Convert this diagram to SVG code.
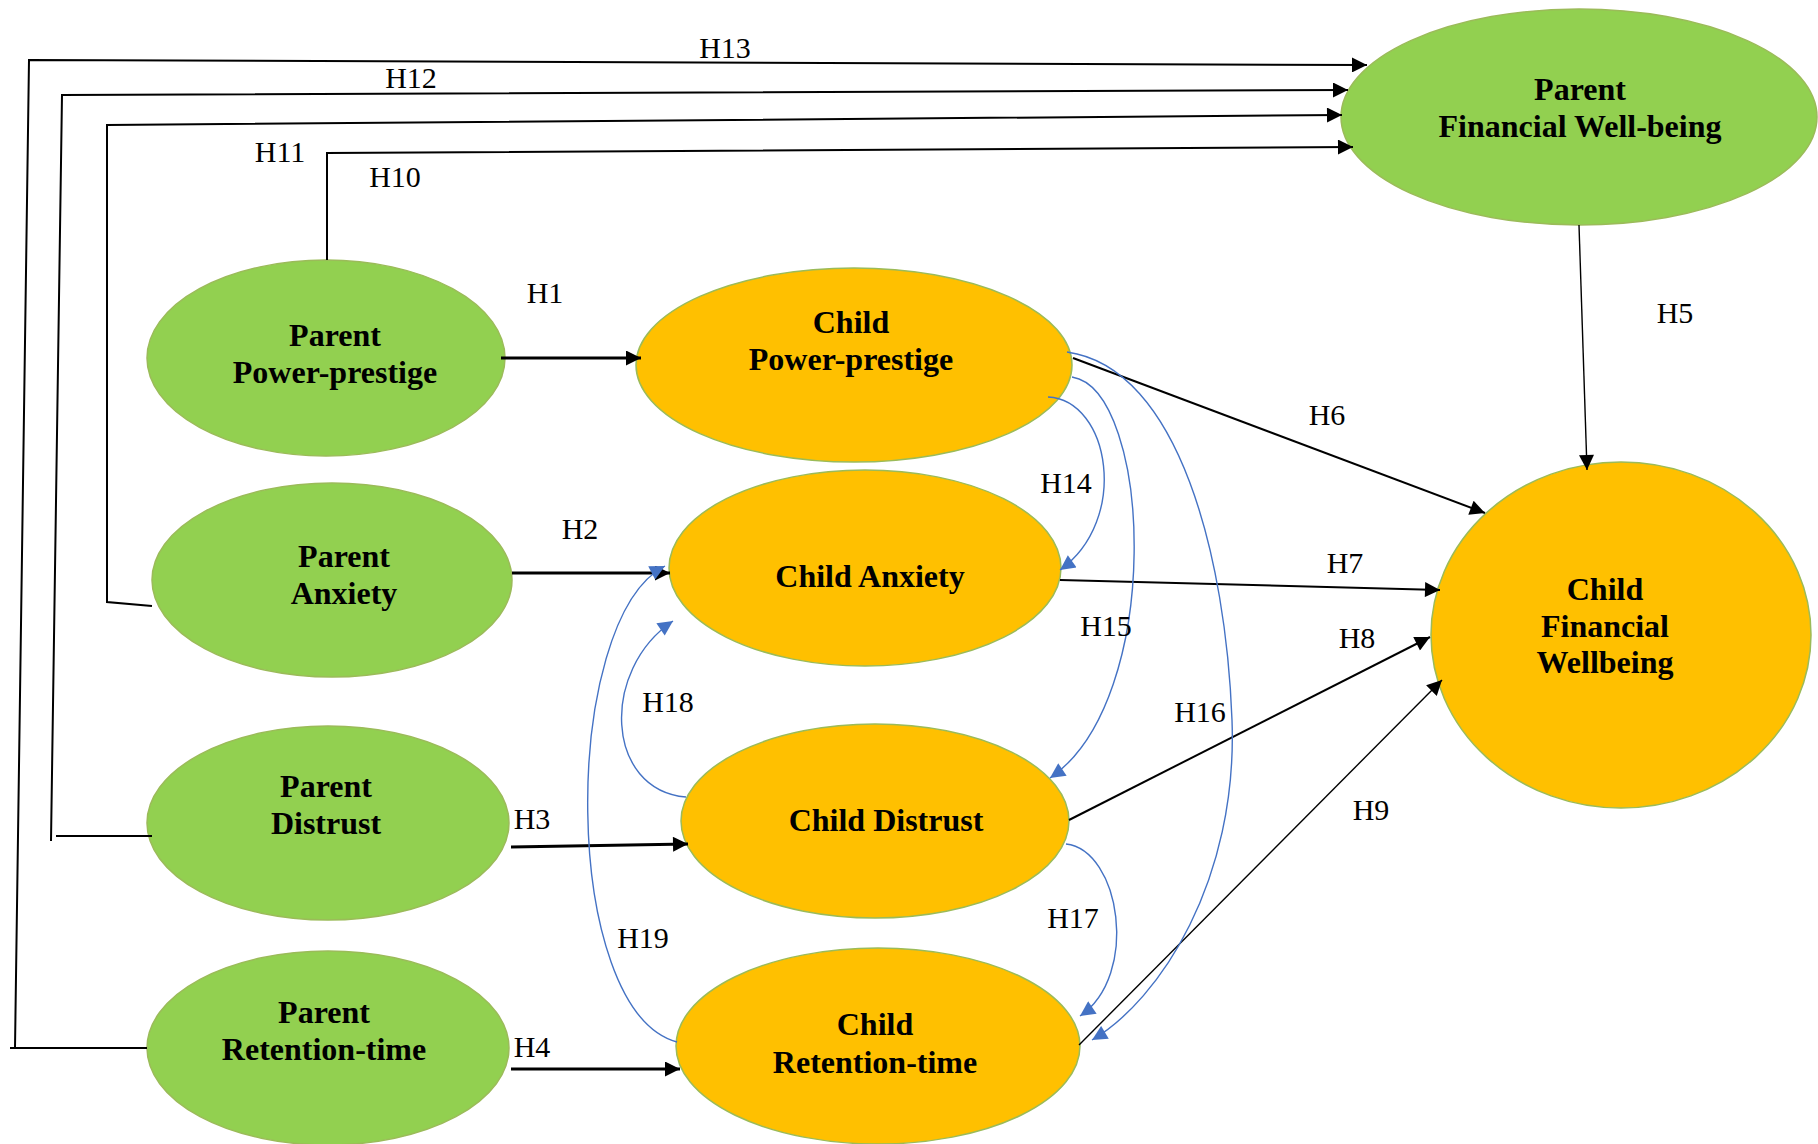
<svg xmlns="http://www.w3.org/2000/svg" width="1818" height="1144" viewBox="0 0 1818 1144">
  <style>
    .parent { fill: #92D050; stroke: #9BBB59; stroke-width: 1.5; }
    .child { fill: #FFC000; stroke: #9BBB59; stroke-width: 1.5; }
    .node-text { font-family: "Liberation Serif", "Times New Roman", serif; font-weight: bold; font-size: 32px; fill: #000; text-anchor: middle; }
    .lbl { font-family: "Liberation Serif", "Times New Roman", serif; font-size: 30px; fill: #000; text-anchor: middle; }
    .path { fill: none; stroke: #000; stroke-width: 2; }
    .thick { stroke-width: 3; }
    .thin { stroke-width: 1.4; }
    .corr { fill: none; stroke: #4472C4; stroke-width: 1.4; }
  </style>
  <defs>
    <marker id="arrow" viewBox="0 0 10 10" refX="10" refY="5" markerUnits="userSpaceOnUse" markerWidth="16" markerHeight="15" orient="auto">
      <path d="M0,0 L10,5 L0,10 z" fill="#000"/>
    </marker>
    <marker id="arrow-blue" viewBox="0 0 10 10" refX="10" refY="5" markerUnits="userSpaceOnUse" markerWidth="17" markerHeight="15" orient="auto">
      <path d="M0,0 L10,5 L0,10 z" fill="#4472C4"/>
    </marker>
  </defs>

  <rect width="1818" height="1144" fill="#fff"/>

  <!-- Nodes -->
  <g id="parent-financial-wellbeing">
    <ellipse class="parent" cx="1579" cy="117" rx="238" ry="108"/>
    <text class="node-text" x="1580" y="100">Parent</text>
    <text class="node-text" x="1580" y="137">Financial Well-being</text>
  </g>
  <g id="parent-power-prestige">
    <ellipse class="parent" cx="326" cy="358" rx="179" ry="98"/>
    <text class="node-text" x="335" y="346">Parent</text>
    <text class="node-text" x="335" y="383">Power-prestige</text>
  </g>
  <g id="parent-anxiety">
    <ellipse class="parent" cx="332" cy="580" rx="180" ry="97"/>
    <text class="node-text" x="344" y="567">Parent</text>
    <text class="node-text" x="344" y="604">Anxiety</text>
  </g>
  <g id="parent-distrust">
    <ellipse class="parent" cx="328" cy="823" rx="181" ry="97"/>
    <text class="node-text" x="326" y="797">Parent</text>
    <text class="node-text" x="326" y="834">Distrust</text>
  </g>
  <g id="parent-retention-time">
    <ellipse class="parent" cx="328" cy="1048" rx="181" ry="97"/>
    <text class="node-text" x="324" y="1023">Parent</text>
    <text class="node-text" x="324" y="1060">Retention-time</text>
  </g>
  <g id="child-power-prestige">
    <ellipse class="child" cx="854" cy="365" rx="218" ry="97"/>
    <text class="node-text" x="851" y="333">Child</text>
    <text class="node-text" x="851" y="370">Power-prestige</text>
  </g>
  <g id="child-anxiety">
    <ellipse class="child" cx="865" cy="568" rx="196" ry="98"/>
    <text class="node-text" x="870" y="587">Child Anxiety</text>
  </g>
  <g id="child-distrust">
    <ellipse class="child" cx="875" cy="821" rx="194" ry="97"/>
    <text class="node-text" x="886" y="831">Child Distrust</text>
  </g>
  <g id="child-retention-time">
    <ellipse class="child" cx="878" cy="1046" rx="202" ry="98"/>
    <text class="node-text" x="875" y="1035">Child</text>
    <text class="node-text" x="875" y="1073">Retention-time</text>
  </g>
  <g id="child-financial-wellbeing">
    <ellipse class="child" cx="1621" cy="635" rx="190" ry="173"/>
    <text class="node-text" x="1605" y="600">Child</text>
    <text class="node-text" x="1605" y="637">Financial</text>
    <text class="node-text" x="1605" y="673">Wellbeing</text>
  </g>

  <!-- Connectors -->
  <g id="connectors">
    <!-- parent to child paths -->
    <line class="path thick" x1="501" y1="358" x2="641" y2="358" marker-end="url(#arrow)"/>
    <line class="path thick" x1="512" y1="573" x2="670" y2="573" marker-end="url(#arrow)"/>
    <line class="path thick" x1="511" y1="847" x2="688" y2="844" marker-end="url(#arrow)"/>
    <line class="path thick" x1="511" y1="1069" x2="680" y2="1069" marker-end="url(#arrow)"/>
    <!-- into child financial wellbeing -->
    <line class="path thin" x1="1579" y1="225" x2="1587" y2="470" marker-end="url(#arrow)"/>
    <line class="path" x1="1073" y1="358" x2="1485" y2="513" marker-end="url(#arrow)"/>
    <line class="path" x1="1060" y1="580" x2="1440" y2="590" marker-end="url(#arrow)"/>
    <line class="path" x1="1069" y1="820" x2="1430" y2="637" marker-end="url(#arrow)"/>
    <line class="path thin" x1="1079" y1="1045" x2="1442" y2="680" marker-end="url(#arrow)"/>
    <!-- parent constructs to parent financial well-being -->
    <polyline class="path" points="327,260 327,153 1353,147" marker-end="url(#arrow)"/>
    <polyline class="path" points="152,606 107,602 107,125 1342,115" marker-end="url(#arrow)"/>
    <line class="path" x1="56" y1="836" x2="152" y2="836"/>
    <polyline class="path" points="51,841 62,95 1348,90" marker-end="url(#arrow)"/>
    <line class="path" x1="10" y1="1048" x2="147" y2="1048"/>
    <polyline class="path" points="15,1048 29,60 1367,65" marker-end="url(#arrow)"/>
    <!-- child to child paths -->
    <path class="corr" d="M1048,397 C1110,400 1130,520 1060,570" marker-end="url(#arrow-blue)"/>
    <path class="corr" d="M1072,377 C1152,390 1165,700 1050,778" marker-end="url(#arrow-blue)"/>
    <path class="corr" d="M1067,352 C1180,368 1226,560 1232,720 C1238,880 1160,1000 1092,1040" marker-end="url(#arrow-blue)"/>
    <path class="corr" d="M1066,844 C1120,850 1140,975 1080,1016" marker-end="url(#arrow-blue)"/>
    <path class="corr" d="M686,797 C605,790 600,670 673,621" marker-end="url(#arrow-blue)"/>
    <path class="corr" d="M677,1042 C560,1010 560,620 665,566" marker-end="url(#arrow-blue)"/>
  </g>

  <!-- Hypothesis labels -->
  <g id="labels">
    <text class="lbl" x="545" y="303">H1</text>
    <text class="lbl" x="580" y="539">H2</text>
    <text class="lbl" x="532" y="829">H3</text>
    <text class="lbl" x="532" y="1057">H4</text>
    <text class="lbl" x="1675" y="323">H5</text>
    <text class="lbl" x="1327" y="425">H6</text>
    <text class="lbl" x="1345" y="573">H7</text>
    <text class="lbl" x="1357" y="648">H8</text>
    <text class="lbl" x="1371" y="820">H9</text>
    <text class="lbl" x="395" y="187">H10</text>
    <text class="lbl" x="280" y="162">H11</text>
    <text class="lbl" x="411" y="88">H12</text>
    <text class="lbl" x="725" y="58">H13</text>
    <text class="lbl" x="1066" y="493">H14</text>
    <text class="lbl" x="1106" y="636">H15</text>
    <text class="lbl" x="1200" y="722">H16</text>
    <text class="lbl" x="1073" y="928">H17</text>
    <text class="lbl" x="668" y="712">H18</text>
    <text class="lbl" x="643" y="948">H19</text>
  </g>
</svg>
